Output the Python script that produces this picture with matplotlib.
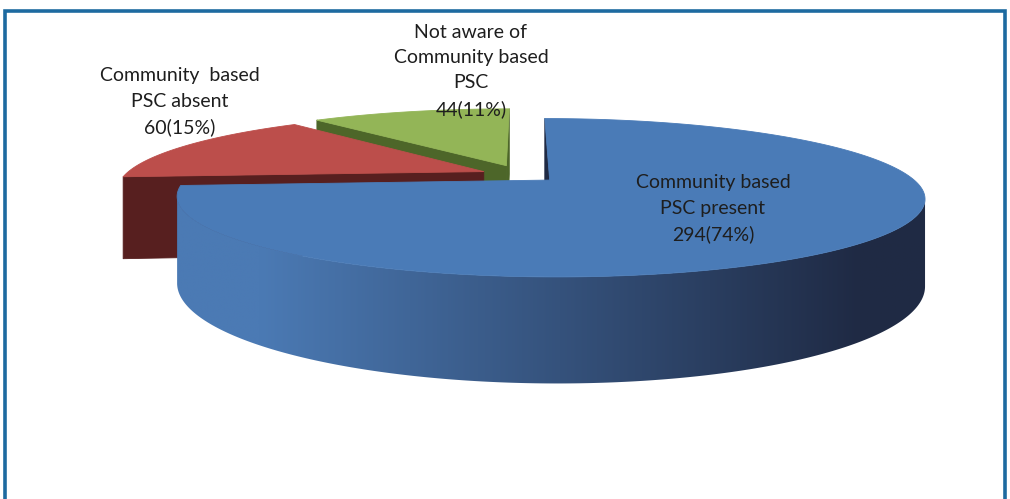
import numpy as np
import matplotlib
matplotlib.use("Agg")
import matplotlib.pyplot as plt
from matplotlib.patches import Polygon
from matplotlib.colors import to_rgb

# ---- data -------------------------------------------------------------
categories = ["Community based\nPSC present",
              "Community  based\nPSC absent",
              "Not aware of\nCommunity based\nPSC"]
counts = [294, 60, 44]
percents = [74, 15, 11]

# ---- styling ----------------------------------------------------------
top_colors = ["#4A7BB7", "#BC4E4B", "#93B557"]
wall_light = ["#4B7AB4", "#571F1F", "#4D6629"]
wall_dark = ["#1F2A44", "#4A1A1A", "#3F5721"]
explode = [0.10, 0.12, 0.14]
label_pos = [(713, 209), (180, 102), (471, 71)]

W, H = 1010, 499
fig = plt.figure(figsize=(W / 100, H / 100), dpi=100)
ax = fig.add_axes([0, 0, 1, 1])
ax.set_xlim(0, W)
ax.set_ylim(H, 0)
ax.axis("off")

# ---- simple perspective camera for a 3-D pie ---------------------------
OX, OY = 523.0, 175.0   # screen position of pie centre (top face)
A = 359.0               # pixels per radius unit
G = 0.22                # perspective strength along depth
B = 73.0                # vertical foreshortening of the disc
DEPTH = 81.5 / A        # thickness of the pie in radius units
CAM = np.array([0.0, -1.0 / G, B / (G * A)])


def proj(u, v, z):
    s = 1.0 / (1.0 + G * v)
    return OX + A * u * s, OY + (-B * v - A * z) * s


def visible(normal, point):
    return np.dot(normal, CAM - np.asarray(point)) > 0


def add_poly(pts, color, z):
    p = Polygon(pts, closed=True, facecolor=color, edgecolor=color,
                linewidth=0.6, zorder=z, joinstyle="round")
    ax.add_patch(p)
    return p


def gradient_fill(pts, c_left, c_right, x_from, x_to, z):
    """Fill a polygon with a left-to-right colour ramp."""
    pts = np.asarray(pts)
    x0, x1 = pts[:, 0].min() - 2, pts[:, 0].max() + 2
    y0, y1 = pts[:, 1].min() - 2, pts[:, 1].max() + 2
    xs = np.linspace(x0, x1, 512)
    t = np.clip((xs - x_from) / (x_to - x_from), 0, 1)[None, :, None]
    a, b = np.array(to_rgb(c_left)), np.array(to_rgb(c_right))
    img = a + (b - a) * t
    img = np.repeat(img, 2, axis=0)
    clip = Polygon(pts, closed=True, facecolor="none", edgecolor="none",
                   transform=ax.transData)
    ax.add_patch(clip)
    im = ax.imshow(img, extent=(x0, x1, y1, y0), aspect="auto",
                   interpolation="bilinear", zorder=z)
    im.set_clip_path(clip)
    ax.set_xlim(0, W)
    ax.set_ylim(H, 0)


total = float(sum(counts))
fracs = [c / total for c in counts]
starts = np.concatenate([[0.0], np.cumsum(fracs)[:-1]]) * 2 * np.pi
ends = np.cumsum(fracs) * 2 * np.pi

# far slices first, the big front slice last
order = [2, 1, 0]
for rank, i in enumerate(order):
    t0, t1 = starts[i], ends[i]
    mid = 0.5 * (t0 + t1)
    du, dv = explode[i] * np.sin(mid), explode[i] * np.cos(mid)
    zb = rank * 10

    def rim(t, z):
        return (du + np.sin(t), dv + np.cos(t), z)

    centre_top = (du, dv, 0.0)
    centre_bot = (du, dv, -DEPTH)

    # radial side walls
    for t, sgn in ((t0, -1), (t1, 1)):
        n = np.array([sgn * np.cos(t), -sgn * np.sin(t), 0.0])
        if visible(n, rim(t, 0.0)):
            pts = [proj(*p) for p in
                   (centre_top, rim(t, 0.0), rim(t, -DEPTH), centre_bot)]
            add_poly(pts, wall_light[i] if i != 0 else wall_dark[i], zb + 1)

    # curved outer wall: keep only the part facing the camera
    ts = np.linspace(t0, t1, 720)
    vis = [t for t in ts
           if visible(np.array([np.sin(t), np.cos(t), 0.0]), rim(t, 0.0))]
    if len(vis) > 1:
        top_edge = [proj(*rim(t, 0.0)) for t in vis]
        bot_edge = [proj(*rim(t, -DEPTH)) for t in vis[::-1]]
        gradient_fill(top_edge + bot_edge, wall_light[i], wall_dark[i],
                      260, 860, zb + 2)

    # top face
    arc = np.linspace(t0, t1, 300)
    pts = [proj(*centre_top)] + [proj(*rim(t, 0.0)) for t in arc]
    add_poly(pts, top_colors[i], zb + 3)

# data labels
for i, (x, y) in enumerate(label_pos):
    ax.text(x, y, f"{categories[i]}\n{counts[i]}({percents[i]}%)",
            ha="center", va="center", fontsize=14, family="Lato",
            color="#1E1E1E", linespacing=1.6, zorder=50)

# chart frame (open at the bottom)
ax.plot([4.5, 4.5, 1005, 1005], [499, 11, 11, 499], color="#1D6AA0",
        linewidth=2.6, solid_joinstyle="miter", zorder=60)

fig.savefig("out.png", dpi=100)
